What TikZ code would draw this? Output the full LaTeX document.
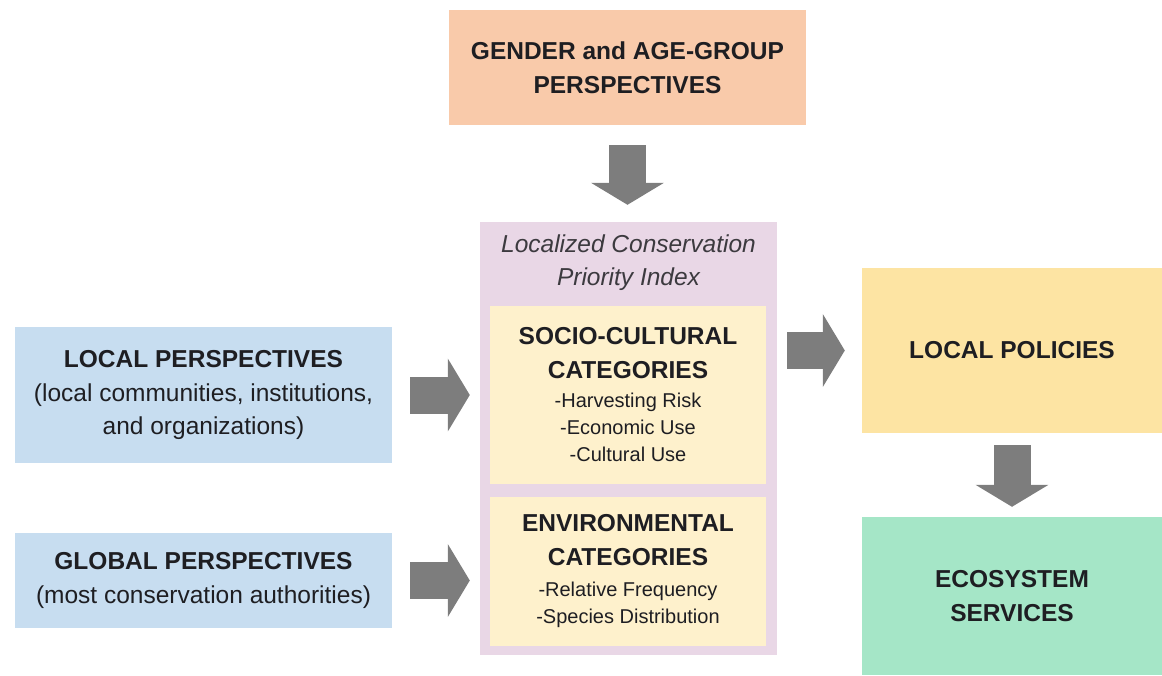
\documentclass[tikz,border=0pt]{standalone}
\usepackage{fontspec}
\setmainfont{Liberation Sans}
\usepackage{tikz}
\usetikzlibrary{positioning}
\usetikzlibrary{arrows.meta}

\definecolor{gendercol}{HTML}{F9CAAA}
\definecolor{indexcol}{HTML}{E9D7E6}
\definecolor{catcol}{HTML}{FEF1CC}
\definecolor{perspcol}{HTML}{C7DDF0}
\definecolor{policycol}{HTML}{FDE4A3}
\definecolor{ecocol}{HTML}{A5E6C7}
\definecolor{arrowcol}{HTML}{7D7D7D}
\definecolor{inkcol}{HTML}{1E1E22}

\newcommand{\bigfont}{\fontsize{24.5}{33.5}\selectfont}
\newcommand{\itemfont}{\fontsize{20}{27}\selectfont}

\tikzset{
	box/.style={inner sep=0pt, align=center, text=inkcol, font=\bigfont},
	blockarrow/.style={arrowcol, line width=37pt, -{Triangle[length=22pt,width=72pt]}}
}

\begin{document}
\begin{tikzpicture}[x=1pt,y=-1pt]
		\useasboundingbox (0,0) rectangle (1162,675);

		% Define the boxes
		\node[box, fill=gendercol, minimum width=357pt, minimum height=115pt] (gender) at (627.5,67.5)
			{\bfseries GENDER and AGE-GROUP\\\bfseries PERSPECTIVES};
		\node[box, fill=indexcol, minimum width=297pt, minimum height=433pt] (lcpi) at (628.5,438.5) {};
		\node[box, text=inkcol!85!indexcol, font=\bigfont\itshape] (title) at (628.5,262.5)
			{Localized Conservation\\Priority Index};
		\node[box, fill=catcol, minimum width=276pt, minimum height=178pt] (socio) at (628,395)
			{\bfseries SOCIO-CULTURAL\\\bfseries CATEGORIES\\[-4pt]
			 \itemfont -Harvesting Risk\\[-6.5pt]\itemfont -Economic Use\\[-6.5pt]\itemfont -Cultural Use};
		\node[box, fill=catcol, minimum width=276pt, minimum height=149pt] (environ) at (628,571.5)
			{\bfseries ENVIRONMENTAL\\\bfseries CATEGORIES\\[-2pt]
			 \itemfont -Relative Frequency\\[-6.5pt]\itemfont -Species Distribution};
		\node[box, fill=perspcol, minimum width=377pt, minimum height=136pt] (local) at (203.5,395)
			{\bfseries LOCAL PERSPECTIVES\\(local communities, institutions,\\and organizations)};
		\node[box, fill=perspcol, minimum width=377pt, minimum height=95pt] (global) at (203.5,580.5)
			{\bfseries GLOBAL PERSPECTIVES\\(most conservation authorities)};
		\node[box, fill=policycol, minimum width=300pt, minimum height=165pt] (policies) at (1012,350.5)
			{\bfseries LOCAL POLICIES};
		\node[box, fill=ecocol, minimum width=300pt, minimum height=158pt] (eco) at (1012,596)
			{\bfseries ECOSYSTEM\\\bfseries SERVICES};

		% Draw the arrows
		\draw[blockarrow, shorten <=20pt, shorten >=17pt] (gender.south) -- (gender.south |- lcpi.north);
		\foreach \src in {local, global}
			\draw[blockarrow, shorten <=18pt, shorten >=10pt] (\src.east) -- (\src.east -| lcpi.west);
		\draw[blockarrow, shorten <=10pt, shorten >=17pt] (lcpi.east |- policies.west) -- (policies.west);
		\draw[blockarrow, shorten <=12pt, shorten >=10pt] (policies.south) -- (eco.north);
	\end{tikzpicture}
\end{document}
